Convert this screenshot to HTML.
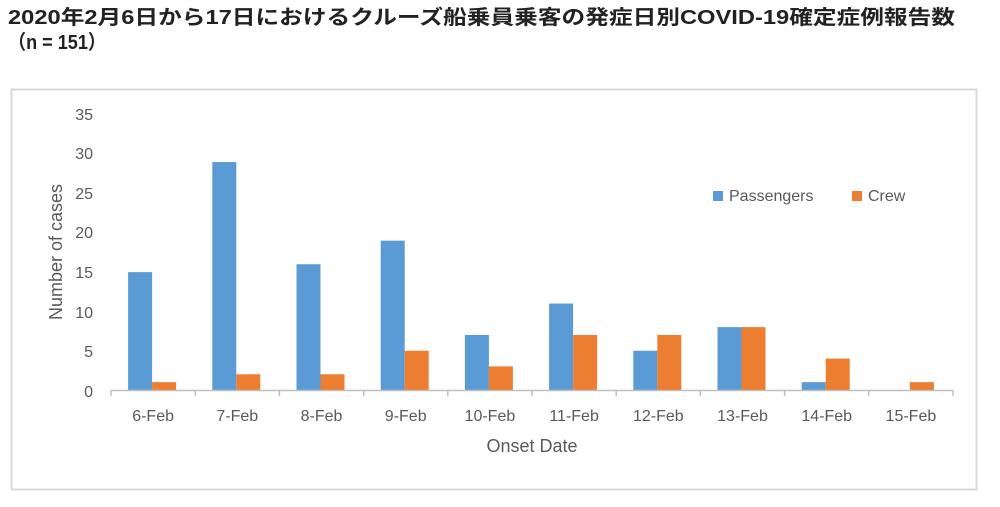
<!DOCTYPE html>
<html><head><meta charset="utf-8"><style>
body{margin:0;background:#fff;width:1000px;height:507px;overflow:hidden}
svg{display:block}
</style></head><body>
<svg width="1000" height="507" xmlns="http://www.w3.org/2000/svg">
<text x="8" y="24" textLength="947" lengthAdjust="spacingAndGlyphs" font-family="'Liberation Sans','Noto Sans CJK JP',sans-serif" font-size="20" font-weight="bold" fill="#222">2020年2月6日から17日におけるクルーズ船乗員乗客の発症日別COVID-19確定症例報告数</text>
<text x="8" y="49" textLength="98" lengthAdjust="spacingAndGlyphs" font-family="'Liberation Sans','Noto Sans CJK JP',sans-serif" font-size="20" font-weight="bold" fill="#222">（n = 151）</text>
<rect x="11.5" y="89.5" width="965" height="400" fill="#fff" stroke="#d9d9d9" stroke-width="2"/>
<g font-family="'Liberation Sans',sans-serif" font-size="16" fill="#595959" text-anchor="end">
<text x="93" y="120">35</text><text x="93" y="159">30</text><text x="93" y="199">25</text><text x="93" y="238">20</text><text x="93" y="278">15</text><text x="93" y="318">10</text><text x="93" y="357">5</text><text x="93" y="397">0</text>
</g>
<text transform="translate(62,252) rotate(-90)" text-anchor="middle" font-family="'Liberation Sans',sans-serif" font-size="18" fill="#595959">Number of cases</text>
<g id="bars"></g>
<line x1="111" y1="390.5" x2="953" y2="390.5" stroke="#bfbfbf" stroke-width="1.5"/>
<g id="ticks" stroke="#bfbfbf" stroke-width="1.5"></g>
<g id="labels" font-family="'Liberation Sans',sans-serif" font-size="16" fill="#595959" text-anchor="middle"></g>
<text x="532" y="452" text-anchor="middle" font-family="'Liberation Sans',sans-serif" font-size="18" fill="#595959">Onset Date</text>
<rect x="713" y="191" width="10" height="10" fill="#5b9bd5"/>
<text x="729" y="201" font-family="'Liberation Sans',sans-serif" font-size="16" fill="#595959">Passengers</text>
<rect x="852" y="191" width="10" height="10" fill="#ed7d31"/>
<text x="868" y="201" font-family="'Liberation Sans',sans-serif" font-size="16" fill="#595959">Crew</text>
</svg>
<script>
var p=[15,29,16,19,7,11,5,8,1,0],c=[1,2,2,5,3,7,7,8,4,1];
var ns="http://www.w3.org/2000/svg",b=document.getElementById('bars'),t=document.getElementById('ticks'),l=document.getElementById('labels');
var k=7.86,base=390;
function r(x,v,col){if(!v)return;var e=document.createElementNS(ns,'rect');e.setAttribute('x',x);e.setAttribute('y',base-v*k);e.setAttribute('width',24);e.setAttribute('height',v*k);e.setAttribute('fill',col);b.appendChild(e);}
for(var i=0;i<10;i++){var x0=111+i*84.2,cx=x0+42.1;
r(cx-25,p[i],'#5b9bd5');r(cx-1,c[i],'#ed7d31');
var ln=document.createElementNS(ns,'line');ln.setAttribute('x1',x0);ln.setAttribute('x2',x0);ln.setAttribute('y1',390);ln.setAttribute('y2',396);t.appendChild(ln);
var tx=document.createElementNS(ns,'text');tx.setAttribute('x',cx);tx.setAttribute('y',421);tx.textContent=(6+i)+'-Feb';l.appendChild(tx);}
var ln2=document.createElementNS(ns,'line');ln2.setAttribute('x1',953);ln2.setAttribute('x2',953);ln2.setAttribute('y1',390);ln2.setAttribute('y2',396);t.appendChild(ln2);
</script>
</body></html>
